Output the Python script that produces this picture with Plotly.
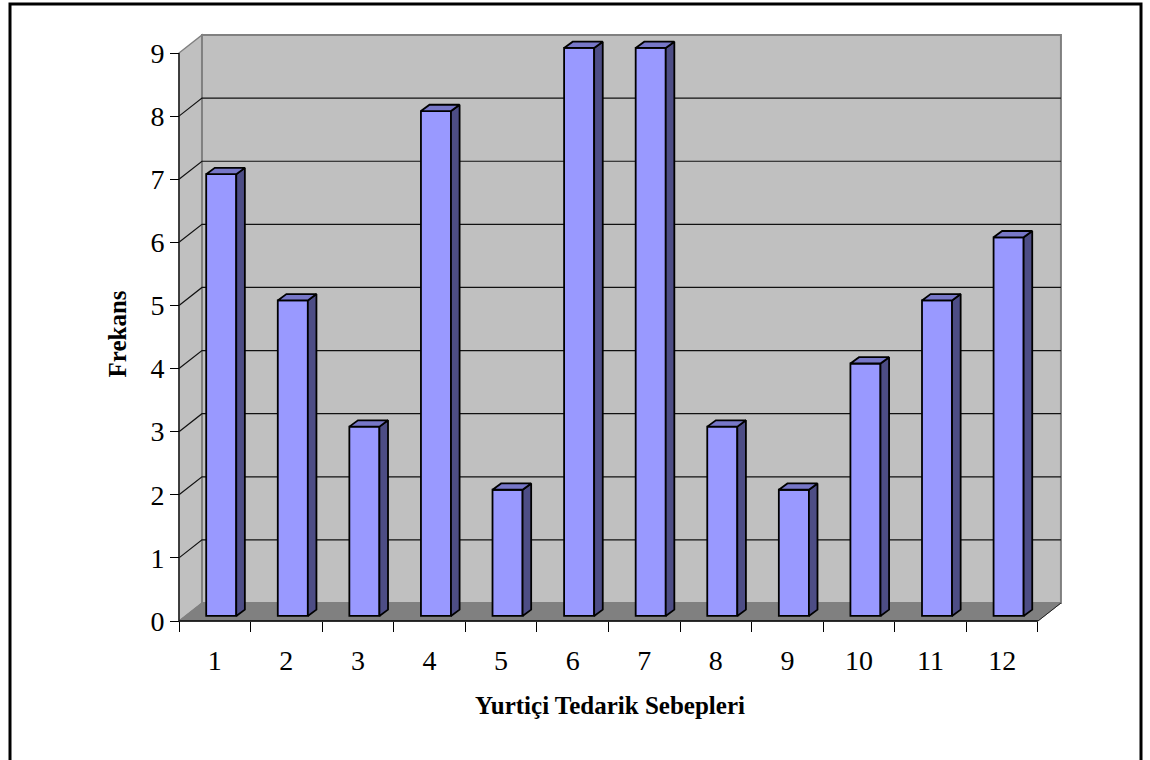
import plotly.graph_objects as go

# Frequency of each domestic sourcing reason
categories = list(range(1, 13))
tick_labels = [str(c) for c in categories]
frekans = [7, 5, 3, 8, 2, 9, 9, 3, 2, 4, 5, 6]
y_ticks = list(range(0, 10))
y_max = 9

# --- 3D look: depth of the box and of the bars, in data units -------------
DX, DY = 0.321, 0.285          # depth of the chart box (x, y)
BAR_W = 0.42                   # bar front width
BAR_FX, BAR_FY = 0.09, 0.08    # bar front offset into the box
BAR_DX, BAR_DY = 0.12, 0.10    # bar depth

WALL = "#C0C0C0"
FLOOR = "#808080"
EDGE = "#808080"
FRONT = "#9999FF"
SIDE = "#4D4D85"
TOP = "#7777C8"
FONT = "Liberation Serif"

# --- figure / plot-area layout (pixels) ------------------------------------
W, H = 1150, 760
L, R, T, B = 174, 1066, 30, 626
CAT = 71.58     # px per category
UNIT = 63.11    # px per frequency unit
x_axis_px, y_axis_px = 179, 621
xmin = 0.5 - (x_axis_px - L) / CAT
xmax = xmin + (R - L) / CAT
ymin = -(B - y_axis_px) / UNIT
ymax = ymin + (B - T) / UNIT


def px_x(px):
    return (px - L) / (R - L)


def px_y(py):
    return (B - py) / (B - T)


x_lo, x_hi = categories[0] - 0.5, categories[-1] + 0.5

shapes = []
# left side wall
shapes.append(dict(type="path", xref="x", yref="y", layer="below",
                   path=f"M{x_lo},0 L{x_lo},{y_max} L{x_lo+DX},{y_max+DY} L{x_lo+DX},{DY} Z",
                   fillcolor=WALL, line=dict(color=EDGE, width=1.5)))
# back wall
shapes.append(dict(type="path", xref="x", yref="y", layer="below",
                   path=f"M{x_lo+DX},{DY} L{x_hi+DX},{DY} L{x_hi+DX},{y_max+DY} L{x_lo+DX},{y_max+DY} Z",
                   fillcolor=WALL, line=dict(color=EDGE, width=2)))
# floor
shapes.append(dict(type="path", xref="x", yref="y", layer="below",
                   path=f"M{x_lo},0 L{x_hi},0 L{x_hi+DX},{DY} L{x_lo+DX},{DY} Z",
                   fillcolor=FLOOR, line=dict(color=FLOOR, width=1)))
# grid lines on left wall and back wall
for v in y_ticks[1:-1]:
    shapes.append(dict(type="path", xref="x", yref="y", layer="below",
                       path=f"M{x_lo},{v} L{x_lo+DX},{v+DY} L{x_hi+DX},{v+DY}",
                       line=dict(color="#111111", width=1.2)))
# floor right edge
shapes.append(dict(type="line", xref="x", yref="y", layer="below",
                   x0=x_hi, y0=0, x1=x_hi + DX, y1=DY,
                   line=dict(color="#202020", width=1)))
# front axis lines
shapes.append(dict(type="line", xref="x", yref="y", layer="below",
                   x0=x_lo, y0=0, x1=x_hi, y1=0, line=dict(color="black", width=1.5)))
shapes.append(dict(type="line", xref="x", yref="y", layer="below",
                   x0=x_lo, y0=0, x1=x_lo, y1=y_max, line=dict(color="#202020", width=1.5)))
# outer frame
shapes.append(dict(type="rect", xref="paper", yref="paper",
                   x0=px_x(10), x1=px_x(1141), y0=px_y(820), y1=px_y(4),
                   line=dict(color="black", width=3), fillcolor="rgba(0,0,0,0)"))

fig = go.Figure()

# bar front faces
fig.add_trace(go.Bar(
    x=[c + BAR_FX for c in categories], y=frekans, base=BAR_FY, width=BAR_W,
    marker=dict(color=FRONT, line=dict(color="black", width=1.8)),
    hoverinfo="skip", showlegend=False))

# bar side and top faces
for c, v in zip(categories, frekans):
    x0 = c + BAR_FX - BAR_W / 2
    x1 = c + BAR_FX + BAR_W / 2
    y0 = BAR_FY
    y1 = BAR_FY + v
    fig.add_trace(go.Scatter(
        x=[x1, x1 + BAR_DX, x1 + BAR_DX, x1, x1],
        y=[y0, y0 + BAR_DY, y1 + BAR_DY, y1, y0],
        mode="lines", fill="toself", fillcolor=SIDE,
        line=dict(color="black", width=1.8), hoverinfo="skip", showlegend=False))
    fig.add_trace(go.Scatter(
        x=[x0, x0 + BAR_DX, x1 + BAR_DX, x1, x0],
        y=[y1, y1 + BAR_DY, y1 + BAR_DY, y1, y1],
        mode="lines", fill="toself", fillcolor=TOP,
        line=dict(color="black", width=1.8), hoverinfo="skip", showlegend=False))

fig.update_layout(
    width=W, height=H, autosize=False,
    margin=dict(l=L, r=W - R, t=T, b=H - B, pad=0),
    paper_bgcolor="white", plot_bgcolor="white",
    shapes=shapes,
    xaxis=dict(range=[xmin, xmax], anchor="free", position=px_y(y_axis_px),
               showgrid=False, zeroline=False, showline=False,
               tickmode="array", tickvals=categories, ticktext=tick_labels,
               ticks="outside", ticklen=14, tickcolor="rgba(0,0,0,0)",
               tickfont=dict(family=FONT, size=28, color="black"),
               minor=dict(tickmode="array", tickvals=[c - 0.5 for c in categories] + [x_hi],
                          ticks="outside", ticklen=10, tickwidth=1, tickcolor="black",
                          showgrid=False)),
    yaxis=dict(range=[ymin, ymax], anchor="free", position=px_x(x_axis_px),
               showgrid=False, zeroline=False, showline=False,
               tickmode="array", tickvals=y_ticks, ticktext=[str(t) for t in y_ticks],
               ticks="outside", ticklen=9, tickwidth=1, tickcolor="black",
               tickfont=dict(family=FONT, size=28, color="black")),
    annotations=[
        dict(text="<b>Frekans</b>", xref="paper", yref="paper",
             x=px_x(117.5), y=px_y(334), textangle=-90, showarrow=False,
             xanchor="center", yanchor="middle",
             font=dict(family=FONT, size=25, color="black")),
        dict(text="<b>Yurtiçi Tedarik Sebepleri</b>", xref="paper", yref="paper",
             x=px_x(609.5), y=px_y(705), showarrow=False,
             xanchor="center", yanchor="middle",
             font=dict(family=FONT, size=25, color="black")),
    ],
)

fig.write_html("out.html")
